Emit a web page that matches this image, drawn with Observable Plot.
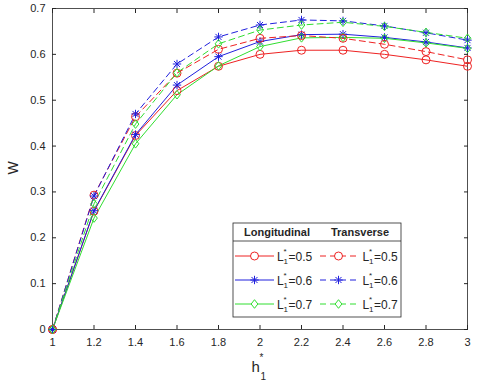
<!DOCTYPE html>
<html><head><meta charset="utf-8">
<script src="https://cdn.jsdelivr.net/npm/d3@7"></script>
<script src="https://cdn.jsdelivr.net/npm/@observablehq/plot@0.6"></script>
<style>body{margin:0;background:#fff}</style>
</head><body><div id="chart"></div>
<script>
const hValues = [1, 1.2, 1.4, 1.6, 1.8, 2.0, 2.2, 2.4, 2.6, 2.8, 3.0];
const longL05  = [0, 0.258, 0.423, 0.521, 0.574, 0.600, 0.609, 0.609, 0.600, 0.588, 0.574];
const longL06  = [0, 0.259, 0.425, 0.533, 0.595, 0.628, 0.643, 0.644, 0.637, 0.627, 0.614];
const longL07  = [0, 0.243, 0.405, 0.512, 0.575, 0.617, 0.636, 0.637, 0.635, 0.625, 0.613];
const transL05 = [0, 0.293, 0.464, 0.559, 0.611, 0.635, 0.641, 0.635, 0.622, 0.606, 0.588];
const transL06 = [0, 0.291, 0.470, 0.579, 0.638, 0.664, 0.675, 0.673, 0.662, 0.647, 0.631];
const transL07 = [0, 0.274, 0.448, 0.560, 0.623, 0.653, 0.664, 0.670, 0.661, 0.648, 0.635];
const xTicks = [1, 1.2, 1.4, 1.6, 1.8, 2, 2.2, 2.4, 2.6, 2.8, 3];
const yTicks = [0, 0.1, 0.2, 0.3, 0.4, 0.5, 0.6, 0.7];
const legendHeaders = ["Longitudinal", "Transverse"];
const lLabels = ["0.5", "0.6", "0.7"];

// MATLAB-like marker shapes
const star8 = {draw(ctx, size) {
  const r = Math.sqrt(size / Math.PI), d = r * 0.72;
  ctx.moveTo(-r, 0); ctx.lineTo(r, 0); ctx.moveTo(0, -r); ctx.lineTo(0, r);
  ctx.moveTo(-d, -d); ctx.lineTo(d, d); ctx.moveTo(-d, d); ctx.lineTo(d, -d);
}};
const diamondM = {draw(ctx, size) {
  const r = Math.sqrt(size / Math.PI), w = r * 0.78;
  ctx.moveTo(0, -r); ctx.lineTo(w, 0); ctx.lineTo(0, r); ctx.lineTo(-w, 0); ctx.closePath();
}};

const RED = "#ee2222", BLUE = "#2020dd", GREEN = "#30de30";
const DASH = "6,4";
const series = [
  {values: longL05, color: RED, dash: null, symbol: d3.symbolCircle, r: 4},
  {values: longL06, color: BLUE, dash: null, symbol: star8, r: 4.2},
  {values: longL07, color: GREEN, dash: null, symbol: diamondM, r: 4.3},
  {values: transL05, color: RED, dash: DASH, symbol: d3.symbolCircle, r: 4},
  {values: transL06, color: BLUE, dash: DASH, symbol: star8, r: 4.2},
  {values: transL07, color: GREEN, dash: DASH, symbol: diamondM, r: 4.3}
];
const INK = "#262626";
const FONT = "Liberation Sans, Arial, Helvetica, sans-serif";

const marks = [
  Plot.frame({stroke: INK, strokeWidth: 0.8}),
  Plot.axisX(xTicks, {anchor: "bottom", tickSize: -4, tickPadding: 13, tickFormat: d => String(d), label: null, stroke: INK, fill: INK}),
  Plot.axisX(xTicks, {anchor: "top", tickSize: -4, tickFormat: () => "", label: null, stroke: INK}),
  Plot.axisY(yTicks, {anchor: "left", tickSize: -4, tickPadding: 11, tickFormat: d => String(d), label: null, stroke: INK, fill: INK}),
  Plot.axisY(yTicks, {anchor: "right", tickSize: -4, tickFormat: () => "", label: null, stroke: INK})
];
for (const s of series) {
  marks.push(Plot.line(hValues, {x: d => d, y: (d, i) => s.values[i], stroke: s.color, strokeWidth: 1, strokeDasharray: s.dash}));
}
for (const s of series) {
  marks.push(Plot.dot(hValues, {x: d => d, y: (d, i) => s.values[i], stroke: s.color, fill: "none", symbol: s.symbol, r: s.r, strokeWidth: 1}));
}

const plot = Plot.plot({
  width: 480, height: 383,
  marginLeft: 52, marginRight: 13, marginTop: 8, marginBottom: 54,
  style: {fontFamily: FONT, fontSize: "11px", color: INK, background: "#fff", overflow: "visible"},
  x: {domain: [1, 3]},
  y: {domain: [0, 0.7]},
  marks
});
document.getElementById("chart").appendChild(plot);

const svg = d3.select(plot);
// axis labels
svg.append("text").attr("transform", "translate(18,168) rotate(-90)")
  .attr("text-anchor", "middle").attr("font-family", FONT).attr("font-size", 14).attr("fill", INK).text("W");
const xl = svg.append("text").attr("font-family", FONT).attr("fill", INK).attr("text-anchor", "start");
xl.append("tspan").attr("x", 251.5).attr("y", 372).attr("font-size", 15).text("h");
xl.append("tspan").attr("x", 259.5).attr("y", 361).attr("font-size", 10).text("*");
xl.append("tspan").attr("x", 260.5).attr("y", 380).attr("font-size", 10).text("1");

// legend
const lg = svg.append("g").attr("font-family", FONT).attr("fill", INK).attr("text-anchor", "start");
lg.append("rect").attr("x", 233).attr("y", 223).attr("width", 168).attr("height", 94)
  .attr("fill", "#fff").attr("stroke", INK).attr("stroke-width", 0.8);
lg.append("line").attr("x1", 233).attr("x2", 401).attr("y1", 241).attr("y2", 241)
  .attr("stroke", INK).attr("stroke-width", 0.8);
const colX = [{seg: [235, 274], mk: 254.5, lab: 277, head: 277}, {seg: [320, 357], mk: 338.5, lab: 362.5, head: 360}];
legendHeaders.forEach((h, j) => {
  lg.append("text").attr("x", colX[j].head).attr("y", 236).attr("text-anchor", "middle")
    .attr("font-size", 11).attr("font-weight", "bold").text(h);
});
const rowY = [256, 280, 304];
series.forEach((s, k) => {
  const j = k < 3 ? 0 : 1, r = k % 3;
  const c = colX[j], y = rowY[r];
  lg.append("line").attr("x1", c.seg[0]).attr("x2", c.seg[1]).attr("y1", y).attr("y2", y)
    .attr("stroke", s.color).attr("stroke-width", 1).attr("stroke-dasharray", s.dash);
  lg.append("path").attr("d", d3.symbol(s.symbol, s.r * s.r * Math.PI)())
    .attr("transform", `translate(${c.mk},${y})`).attr("fill", "#fff").attr("stroke", s.color).attr("stroke-width", 1);
  const t = lg.append("text").attr("font-size", 12);
  t.append("tspan").attr("x", c.lab).attr("y", y + 4.5).text("L");
  t.append("tspan").attr("x", c.lab + 6.5).attr("y", y - 2.5).attr("font-size", 8).text("*");
  t.append("tspan").attr("x", c.lab + 6.5).attr("y", y + 8).attr("font-size", 8).text("1");
  t.append("tspan").attr("x", c.lab + 11.5).attr("y", y + 4.5).text("=" + lLabels[r]);
});
</script>
</body></html>
